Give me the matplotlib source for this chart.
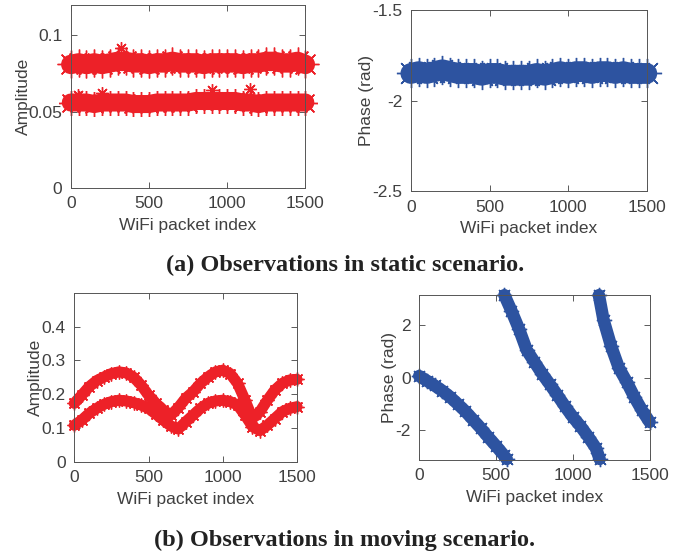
import matplotlib.pyplot as plt

# packet index sampled every 50 packets
packets = list(range(0, 1501, 50))

# (a) static scenario
static_amp_high = [0.081, 0.082, 0.081, 0.082, 0.081, 0.082, 0.083, 0.083, 0.082, 0.082, 0.081,
                   0.082, 0.082, 0.083, 0.082, 0.082, 0.082, 0.081, 0.082, 0.082, 0.082, 0.082,
                   0.081, 0.082, 0.082, 0.083, 0.083, 0.082, 0.082, 0.083, 0.081]
static_amp_low = [0.056, 0.056, 0.056, 0.055, 0.056, 0.056, 0.056, 0.056, 0.055, 0.055, 0.055,
                  0.056, 0.056, 0.056, 0.056, 0.056, 0.057, 0.057, 0.057, 0.057, 0.057, 0.057,
                  0.056, 0.056, 0.055, 0.056, 0.056, 0.056, 0.056, 0.056, 0.056]
outlier_x = [45, 200, 320, 905, 1145]
outlier_amp = [0.061, 0.062, 0.092, 0.064, 0.065]
static_phase = [-1.85, -1.84, -1.85, -1.84, -1.83, -1.84, -1.85, -1.85, -1.85, -1.86, -1.85,
                -1.85, -1.86, -1.86, -1.86, -1.86, -1.85, -1.86, -1.85, -1.84, -1.85, -1.84,
                -1.84, -1.85, -1.84, -1.84, -1.85, -1.84, -1.85, -1.85, -1.85]

# (b) moving scenario
moving_amp_high = [0.173, 0.197, 0.222, 0.240, 0.251, 0.261, 0.266, 0.263, 0.250, 0.227, 0.197,
                   0.173, 0.153, 0.138, 0.160, 0.188, 0.207, 0.232, 0.251, 0.266, 0.271, 0.261,
                   0.232, 0.182, 0.128, 0.148, 0.182, 0.212, 0.232, 0.242, 0.244]
moving_amp_low = [0.108, 0.123, 0.143, 0.158, 0.170, 0.178, 0.182, 0.180, 0.175, 0.168, 0.158,
                  0.141, 0.123, 0.106, 0.097, 0.118, 0.138, 0.158, 0.173, 0.180, 0.182, 0.178,
                  0.168, 0.138, 0.104, 0.092, 0.108, 0.128, 0.148, 0.158, 0.163]
seg1_x = [0, 50, 100, 150, 200, 250, 300, 350, 400, 450, 500, 550, 570]
seg1_y = [0.06, -0.12, -0.30, -0.50, -0.73, -1.00, -1.28, -1.60, -1.92, -2.27, -2.60, -2.95, -3.10]
seg2_x = [555, 600, 650, 700, 750, 800, 850, 900, 950, 1000, 1050, 1100, 1150, 1175]
seg2_y = [3.14, 2.55, 1.85, 1.05, 0.60, 0.15, -0.25, -0.67, -1.10, -1.50, -1.85, -2.25, -2.68, -3.10]
seg3_x = [1170, 1200, 1250, 1300, 1350, 1400, 1450, 1500]
seg3_y = [3.14, 2.20, 1.19, 0.37, -0.15, -0.73, -1.24, -1.69]

red = "#ED2128"
blue = "#2D53A0"
grey = "#404040"
star = (8, 2, 0)

plt.rcParams["font.family"] = "Liberation Sans"
plt.rcParams["font.size"] = 12.5

fig = plt.figure(figsize=(6.94, 5.59), dpi=100)
ax1 = fig.add_axes([0.102, 0.664, 0.338, 0.327])
ax2 = fig.add_axes([0.592, 0.658, 0.340, 0.324])
ax3 = fig.add_axes([0.107, 0.174, 0.321, 0.302])
ax4 = fig.add_axes([0.604, 0.177, 0.332, 0.295])


def band(ax, x, y, color, lw, ms):
    ax.plot(x, y, "-", color=color, lw=lw, solid_capstyle="round",
            marker=star, ms=ms, mew=1.0, mec=color)


band(ax1, packets, static_amp_high, red, 14, 20)
band(ax1, packets, static_amp_low, red, 13, 18)
ax1.plot(outlier_x, outlier_amp, ls="none", marker=star, ms=9, mew=1.0, color=red)
ax1.set_ylim(0, 0.12)
ax1.set_yticks([0, 0.05, 0.1])
ax1.set_yticklabels(["0", "0.05", "0.1"])
ax1.set_ylabel("Amplitude", labelpad=-2)

band(ax2, packets, static_phase, blue, 15, 21)
ax2.set_ylim(-2.5, -1.5)
ax2.set_yticks([-2.5, -2, -1.5])
ax2.set_yticklabels(["-2.5", "-2", "-1.5"])
ax2.set_ylabel("Phase (rad)", labelpad=-1)

band(ax3, packets, moving_amp_high, red, 8, 10)
band(ax3, packets, moving_amp_low, red, 8, 10)
ax3.set_ylim(0, 0.5)
ax3.set_yticks([0, 0.1, 0.2, 0.3, 0.4])
ax3.set_yticklabels(["0", "0.1", "0.2", "0.3", "0.4"])
ax3.set_ylabel("Amplitude", labelpad=-1)

for sx, sy in [(seg1_x, seg1_y), (seg2_x, seg2_y), (seg3_x, seg3_y)]:
    band(ax4, sx, sy, blue, 9, 11)
ax4.set_ylim(-3.1416, 3.1416)
ax4.set_yticks([-2, 0, 2])
ax4.set_yticklabels(["-2", "0", "2"])
ax4.set_ylabel("Phase (rad)", labelpad=-1)

for ax in [ax1, ax2, ax3, ax4]:
    ax.set_xlim(0, 1500)
    ax.set_xticks([0, 500, 1000, 1500])
    ax.set_xlabel("WiFi packet index", color=grey, labelpad=5)
    ax.yaxis.label.set_color(grey)
    ax.tick_params(direction="in", top=True, right=True, length=4, width=0.6,
                   colors=grey, labelsize=12.5, pad=6)
    for s in ax.spines.values():
        s.set_color("#555555")
        s.set_linewidth(0.7)
    for line in ax.get_lines():
        line.set_clip_on(False)

fig.text(0.497, 0.526, "(a) Observations in static scenario.", ha="center", va="center",
         family="Liberation Serif", weight="bold", fontsize=17.5, color="#222222")
fig.text(0.497, 0.034, "(b) Observations in moving scenario.", ha="center", va="center",
         family="Liberation Serif", weight="bold", fontsize=17.5, color="#222222")

fig.savefig("out.png", dpi=100)
